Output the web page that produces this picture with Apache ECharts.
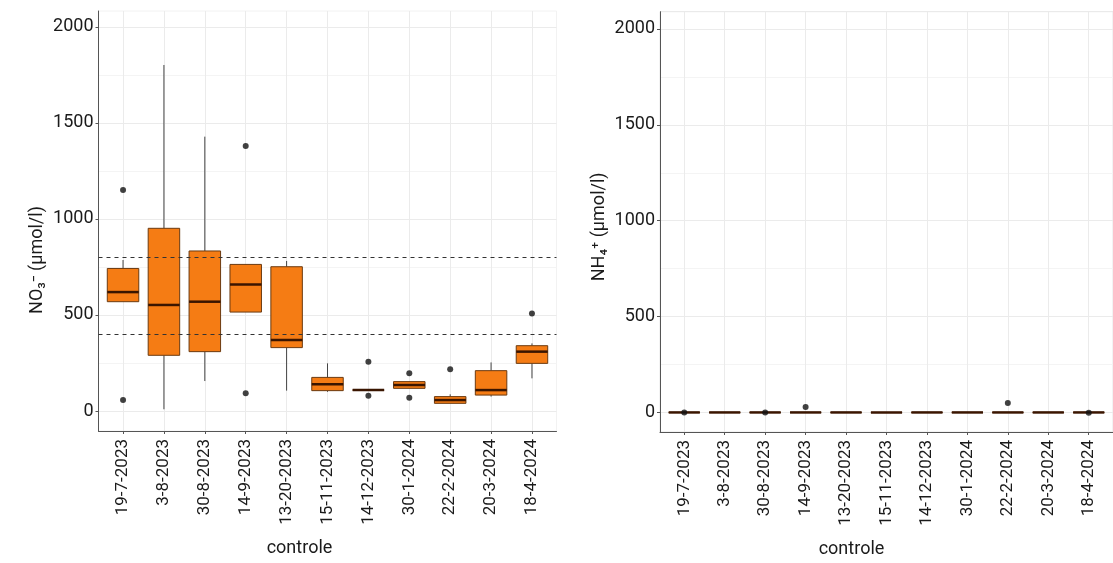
<!DOCTYPE html>
<html>
<head>
<meta charset="utf-8">
<script src="https://cdn.jsdelivr.net/npm/echarts@6/dist/echarts.min.js"></script>
<style>
html,body{margin:0;padding:0;background:#fff;}
#chart{width:1113px;height:563px;}
</style>
</head>
<body>
<div id="chart"></div>
<script>
// ---- data ----
const categories = ['19-7-2023','3-8-2023','30-8-2023','14-9-2023','13-20-2023','15-11-2023','14-12-2023','30-1-2024','22-2-2024','20-3-2024','18-4-2024'];
const no3Min    = [569,    9, 156, 515, 106, 100, 109, 118, 40,  75, 170];
const no3Q1     = [569,  290, 309, 515, 330, 106, 109, 118, 40,  83, 248];
const no3Median = [619,  552, 569, 659, 370, 139, 109, 135, 57, 109, 309];
const no3Q3     = [742,  951, 833, 763, 751, 175, 109, 153, 75, 210, 340];
const no3Max    = [786, 1801,1428, 763, 781, 248, 109, 153, 87, 253, 352];
const no3Outliers = [[0,1150],[0,57],[3,1379],[3,92],[6,257],[6,80],[7,196],[7,69],[8,217],[10,508]];

const nh4Min    = [0,0,0,0,0,0,0,0,0,0,0];
const nh4Q1     = [0,0,0,0,0,0,0,0,0,0,0];
const nh4Median = [0,0,0,0,0,0,0,0,0,0,0];
const nh4Q3     = [0,0,0,0,0,0,0,0,0,0,0];
const nh4Max    = [0,0,0,0,0,0,0,0,0,0,0];
const nh4Outliers = [[0,0],[2,0],[3,28],[8,49],[10,-1]];

const thresholds = [400, 800];
const yTicks = [0, 500, 1000, 1500, 2000];
const yMinorGrid = [250, 750, 1250, 1750];

// ---- helpers ----
const catIdx = categories.map((c, i) => i);
function boxData(mn, q1, md, q3, mx) {
  return categories.map((c, i) => [i, mn[i], q1[i], md[i], q3[i], mx[i]]);
}
const FONT = 'Roboto';
const FILL = '#f57c14', EDGE = '#6b3a10', MED = '#3a1500';

function renderBox(params, api) {
  const x = api.value(0);
  const lo = api.coord([x, api.value(1)]);
  const q1 = api.coord([x, api.value(2)]);
  const md = api.coord([x, api.value(3)]);
  const q3 = api.coord([x, api.value(4)]);
  const hi = api.coord([x, api.value(5)]);
  const bw = api.size([1, 0])[0] * 0.77;
  const cx = q1[0];
  return {
    type: 'group',
    children: [
      {type: 'line', shape: {x1: cx, y1: hi[1], x2: cx, y2: q3[1]}, style: {stroke: '#444', lineWidth: 1}},
      {type: 'line', shape: {x1: cx, y1: q1[1], x2: cx, y2: lo[1]}, style: {stroke: '#444', lineWidth: 1}},
      {type: 'rect', shape: {x: cx - bw / 2, y: q3[1], width: bw, height: q1[1] - q3[1]},
        style: {fill: FILL, stroke: EDGE, lineWidth: 1}},
      {type: 'line', shape: {x1: cx - bw / 2, y1: md[1], x2: cx + bw / 2, y2: md[1]},
        style: {stroke: MED, lineWidth: 2.5}}
    ]
  };
}

function xAxisCfg(gridIndex, padRight) {
  return {
    type: 'value', gridIndex: gridIndex, min: -0.6, max: 10.6,
    axisLine: {show: true, onZero: false, lineStyle: {color: '#555', width: 1}},
    axisTick: {show: true, customValues: catIdx, length: 3, lineStyle: {color: '#555'}},
    axisLabel: {customValues: catIdx, formatter: v => categories[Math.round(v)], rotate: 90,
      fontFamily: FONT, fontSize: 17, color: '#1a1a1a', margin: 8},
    splitLine: {show: true, lineStyle: {color: '#ebebeb', width: 1}},
    name: 'controle', nameLocation: 'middle', nameGap: 108,
    nameTextStyle: {fontFamily: FONT, fontSize: 18, color: '#1a1a1a', padding: [0, padRight, 0, 0]}
  };
}
function yAxisCfg(gridIndex, name, min, max, padRight) {
  return {
    type: 'value', gridIndex: gridIndex, min: min, max: max, z: 2,
    axisLine: {show: true, onZero: false, lineStyle: {color: '#555', width: 1}},
    axisTick: {show: true, customValues: yTicks, length: 3, lineStyle: {color: '#555'}},
    axisLabel: {customValues: yTicks, formatter: v => String(v), fontFamily: FONT, fontSize: 18, color: '#1a1a1a', margin: 5},
    splitLine: {show: true, lineStyle: {color: '#ebebeb', width: 1}},
    name: name, nameLocation: 'middle', nameRotate: 90, nameGap: 52,
    nameTextStyle: {fontFamily: FONT, fontSize: 18, color: '#1a1a1a', padding: [0, padRight, 0, 0]}
  };
}
function yMinorAxisCfg(gridIndex, min, max) {
  return {
    type: 'value', gridIndex: gridIndex, min: min, max: max, z: 0,
    axisLine: {show: false, onZero: false},
    axisTick: {show: false, customValues: yMinorGrid},
    axisLabel: {show: false, customValues: yMinorGrid},
    splitLine: {show: true, lineStyle: {color: '#f4f4f4', width: 1}}
  };
}

const chart = echarts.init(document.getElementById('chart'), null, {renderer: 'canvas'});
chart.setOption({
  animation: false,
  backgroundColor: '#ffffff',
  grid: [
    {left: 98.5, top: 11, right: 556.5, bottom: 132, show: true, borderColor: '#f2f2f2', borderWidth: 1, backgroundColor: 'transparent'},
    {left: 660, top: 11.7, right: -5, bottom: 130.7, show: true, borderColor: '#e6e6e6', borderWidth: 1, backgroundColor: 'transparent'}
  ],
  xAxis: [xAxisCfg(0, 56), xAxisCfg(1, 70)],
  yAxis: [
    yAxisCfg(0, 'NO₃⁻ (µmol/l)', -104, 2082, 78),
    yAxisCfg(1, 'NH₄⁺ (µmol/l)', -102, 2090, 10),
    yMinorAxisCfg(0, -104, 2082),
    yMinorAxisCfg(1, -102, 2090)
  ],
  series: [
    {type: 'custom', xAxisIndex: 0, yAxisIndex: 0, renderItem: renderBox,
      encode: {x: 0, y: [1, 2, 3, 4, 5]},
      data: boxData(no3Min, no3Q1, no3Median, no3Q3, no3Max), z: 3,
      markLine: {silent: true, symbol: 'none', label: {show: false},
        lineStyle: {color: '#333', type: [4, 4], width: 1},
        data: thresholds.map(v => ({yAxis: v}))}},
    {type: 'custom', xAxisIndex: 1, yAxisIndex: 1, renderItem: renderBox,
      encode: {x: 0, y: [1, 2, 3, 4, 5]},
      data: boxData(nh4Min, nh4Q1, nh4Median, nh4Q3, nh4Max), z: 3},
    {type: 'scatter', xAxisIndex: 0, yAxisIndex: 0, data: no3Outliers, symbolSize: 6,
      itemStyle: {color: '#111'}, z: 5},
    {type: 'scatter', xAxisIndex: 1, yAxisIndex: 1, data: nh4Outliers, symbolSize: 6,
      itemStyle: {color: '#111'}, z: 5}
  ]
});
</script>
</body>
</html>
